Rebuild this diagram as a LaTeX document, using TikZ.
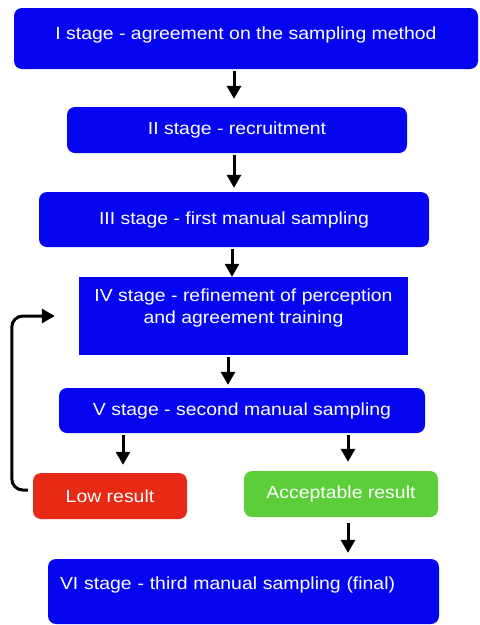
\documentclass[tikz,border=0pt]{standalone}
\usepackage{fontspec}
\setmainfont{Liberation Sans}[FakeStretch=1.11]
\usetikzlibrary{arrows.meta}
\definecolor{cus-blue}{RGB}{5,5,240}
\definecolor{cus-red}{RGB}{230,42,22}
\definecolor{cus-green}{RGB}{92,206,58}

\begin{document}
\begin{tikzpicture}[x=1pt, y=-1pt,
	stagebox/.style={rectangle, rounded corners=8pt, fill=cus-blue, text=white, inner sep=0pt, font=\fontsize{17.5}{22}\selectfont},
	flow/.style={line width=3pt, -{Triangle[width=14pt,length=13pt]}, shorten <=2pt}]
\useasboundingbox (0,0) rectangle (480,625);
\node [stagebox, minimum width=464pt, minimum height=61pt, text height=13pt, text depth=11.4pt] (s1) at (246,38.5) {I stage - agreement on the sampling method};
\node [stagebox, minimum width=340pt, minimum height=46pt] (s2) at (237,130) {II stage - recruitment};
\node [stagebox, minimum width=390pt, minimum height=55pt] (s3) at (234,219.5) {III stage - first manual sampling};
\node [stagebox, sharp corners, minimum width=329pt, minimum height=78pt, align=center] (s4) at (243.5,316) {IV stage - refinement of perception\\ and agreement training\rule[-20pt]{0pt}{1pt}};
\node [stagebox, minimum width=366pt, minimum height=45pt] (s5) at (242,410.5) {V stage - second manual sampling};
\node [stagebox, fill=cus-red, minimum width=154pt, minimum height=46pt] (low) at (110,496) {Low result};
\node [stagebox, fill=cus-green, minimum width=194pt, minimum height=46pt] (acc) at (341,494) {Acceptable result};
\node [stagebox, text width=367pt, inner xsep=12pt, align=left, minimum height=65pt, text height=13pt, text depth=17.4pt] (s6) at (243.5,591.5) {VI stage - third manual sampling (final)};

\draw [flow, shorten >=8pt] ([xshift=-3pt]s2.north |- s1.south) -- ([xshift=-3pt]s2.north);
\draw [flow, shorten >=4pt] (s3.north |- s2.south) -- (s3.north);
\draw [flow, shorten >=0pt] ([xshift=-11.5pt]s4.north |- s3.south) -- ([xshift=-11.5pt]s4.north);
\draw [flow, shorten >=3pt] ([xshift=-14pt]s5.north |- s4.south) -- ([xshift=-14pt]s5.north);
\draw [flow, shorten >=8pt] ([xshift=13pt]low.north |- s5.south) -- ([xshift=13pt]low.north);
\draw [flow, shorten >=9pt] ([xshift=7pt]acc.north |- s5.south) -- ([xshift=7pt]acc.north);
\draw [flow, shorten <=6pt, shorten >=6pt] ([xshift=7pt]acc.south) -- ([xshift=7pt]acc.south |- s6.north);
\draw [flow, rounded corners=11pt, shorten <=5pt, shorten >=24pt] ([yshift=6pt]low.west) -- ++(-21,0) |- (s4.west);
\end{tikzpicture}
\end{document}
